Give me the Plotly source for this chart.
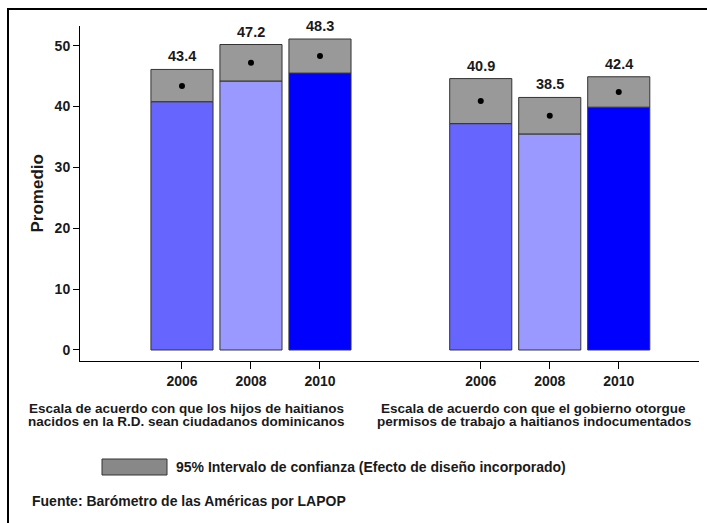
import plotly.graph_objects as go

# data
years = ["2006", "2008", "2010"]
topic_lines = [
    ["Escala de acuerdo con que los hijos de haitianos",
     "nacidos en la R.D. sean ciudadanos dominicanos"],
    ["Escala de acuerdo con que el gobierno otorgue",
     "permisos de trabajo a haitianos indocumentados"],
]
means = [[43.4, 47.2, 48.3], [40.9, 38.5, 42.4]]
ci_low = [[40.8, 44.2, 45.5], [37.2, 35.5, 39.9]]
ci_high = [[46.1, 50.2, 51.1], [44.6, 41.5, 44.9]]

year_colors = ["#6666ff", "#9999ff", "#0000ff"]
ci_color = "#999999"
edge = "#333333"
txt = "#1a1a1a"
FONT = "Liberation Sans, Arial, sans-serif"

W, H = 707, 523
L, R, T, B = 80, 8, 26, 162
group_start = [0, 4.33]
bar_w = 0.9


def px(x):
    return (x - L) / (W - L - R)


def py(y):
    return (H - B - y) / (H - T - B)


fig = go.Figure()

pos = {}
for g in range(len(topic_lines)):
    for i in range(len(years)):
        pos[(g, i)] = group_start[g] + i

for i, yr in enumerate(years):
    xs = [pos[(g, i)] for g in range(len(topic_lines))]
    fig.add_trace(go.Bar(
        x=xs, y=[ci_low[g][i] for g in range(len(topic_lines))],
        width=bar_w, marker=dict(color=year_colors[i], line=dict(color=edge, width=1)),
        name=yr, showlegend=False,
    ))

all_x = [pos[(g, i)] for g in range(len(topic_lines)) for i in range(len(years))]
lo = [ci_low[g][i] for g in range(len(topic_lines)) for i in range(len(years))]
hi = [ci_high[g][i] for g in range(len(topic_lines)) for i in range(len(years))]
mu = [means[g][i] for g in range(len(topic_lines)) for i in range(len(years))]

fig.add_trace(go.Bar(
    x=all_x, base=lo, y=[h - l for h, l in zip(hi, lo)],
    width=bar_w, marker=dict(color=ci_color, line=dict(color=edge, width=1)),
    showlegend=False,
))
fig.add_trace(go.Scatter(
    x=all_x, y=mu, mode="markers",
    marker=dict(color="black", size=6), showlegend=False,
))

for x, h, m in zip(all_x, hi, mu):
    fig.add_annotation(x=x, y=h, text=f"{m:.1f}", showarrow=False,
                       yanchor="bottom", yshift=3,
                       font=dict(size=14.5, color=txt, family=FONT, weight="bold"))

# group captions under the axis
cap_x = [186, 533.5]
for g, lines in enumerate(topic_lines):
    for k, line in enumerate(lines):
        fig.add_annotation(x=px(cap_x[g]), y=py(408 + 13 * k), xref="paper", yref="paper",
                           text=line, showarrow=False, xanchor="center", yanchor="middle",
                           font=dict(size=13.5, color=txt, family=FONT, weight="bold"))

# y axis title
fig.add_annotation(x=px(37), y=py(193.5), xref="paper", yref="paper", text="Promedio",
                   textangle=-90, showarrow=False, xanchor="center", yanchor="middle",
                   font=dict(size=17, color=txt, family=FONT, weight="bold"))

# legend for the confidence interval
fig.add_shape(type="rect", xref="paper", yref="paper",
              x0=px(102), x1=px(167), y0=py(475), y1=py(459),
              fillcolor="#888888", line=dict(color=edge, width=1))
fig.add_annotation(x=px(174), y=py(467), xref="paper", yref="paper",
                   text="95% Intervalo de confianza (Efecto de diseño incorporado)",
                   showarrow=False, xanchor="left", yanchor="middle",
                   font=dict(size=14, color=txt, family=FONT, weight="bold"))
fig.add_annotation(x=px(30), y=py(501), xref="paper", yref="paper",
                   text="Fuente: Barómetro de las Américas por LAPOP",
                   showarrow=False, xanchor="left", yanchor="middle",
                   font=dict(size=14, color=txt, family=FONT, weight="bold"))

# frame: only the top and left edges are in the picture, drawn as thin filled strips
for x0, x1, y0, y1 in [(7, W, 8, 10), (7, 9, 8, H)]:
    fig.add_shape(type="rect", xref="paper", yref="paper",
                  x0=px(x0), x1=px(x1), y0=py(y1), y1=py(y0),
                  fillcolor="black", line=dict(width=0), layer="above")

fig.update_layout(
    width=W, height=H, barmode="overlay",
    margin=dict(l=L, r=R, t=T, b=B),
    plot_bgcolor="white", paper_bgcolor="white",
    font=dict(family=FONT, color=txt),
)
fig.update_xaxes(
    range=[-1.478, 7.493], tickmode="array", tickvals=all_x,
    ticktext=years * len(topic_lines), automargin=False,
    showline=True, linecolor="black", linewidth=1, showgrid=False, zeroline=False,
    ticks="outside", ticklen=7, tickcolor="black",
    tickfont=dict(size=14, color=txt, family=FONT, weight="bold"),
)
fig.update_yaxes(
    range=[-1.81, 53.24], tickmode="array", tickvals=[0, 10, 20, 30, 40, 50],
    automargin=False,
    showline=True, linecolor="black", linewidth=1, showgrid=False, zeroline=False,
    ticks="outside", ticklen=6, tickcolor="black",
    tickfont=dict(size=14, color=txt, family=FONT, weight="bold"),
)

# the page body has a default 8px margin; drop it so the figure fills the window,
# and pin the left frame edge on top of the page in case the svg strip gets clipped
page_js = (
    "document.body.style.margin='0';document.body.style.overflow='hidden';"
    "var e=document.createElement('div');"
    "e.style.cssText='position:fixed;left:7px;top:8px;width:2px;height:600px;"
    "background:#000;pointer-events:none;z-index:9';"
    "document.body.appendChild(e);"
)
fig.write_html("out.html", config={"displayModeBar": False}, post_script=page_js)
